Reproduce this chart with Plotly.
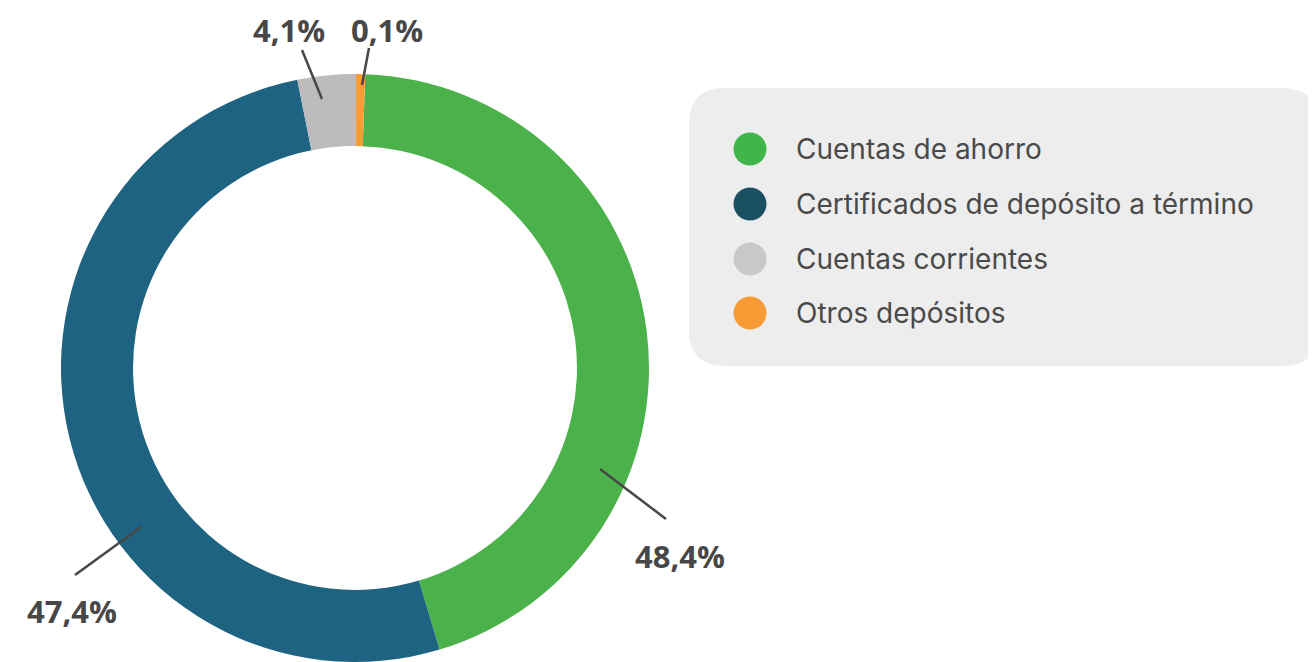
import plotly.graph_objects as go

# the page body adds an 8px margin, so the figure is a bit smaller than the window
W, H, OFF = 1308, 654, 8

# slice shares as drawn in the picture, clockwise from the green slice
categories = ['Cuentas de ahorro', 'Certificados de depósito a término',
              'Cuentas corrientes', 'Otros depósitos']
shares = [44.8, 51.5, 3.2, 0.5]
# percentages as printed on the chart
printed = ['48,4%', '47,4%', '4,1%', '0,1%']

ring_colors = ['#4bb14a', '#1e6381', '#bbbcbb', '#f79b35']
legend_colors = ['#3fb54a', '#1a4f62', '#c8c8c8', '#f79b35']


def px(x, y):
    # window pixel -> paper coords
    return (x - OFF) / W, 1 - (y - OFF) / H


# donut centre (355, 368) in window pixels, radius 294
cx, cy, r = 355 - OFF, 368 - OFF, 294
fig = go.Figure(go.Pie(
    labels=categories, values=shares, sort=False, direction='clockwise',
    rotation=2, hole=0.755, textinfo='none', hoverinfo='label+percent',
    marker=dict(colors=ring_colors, line=dict(width=0)),
    domain=dict(x=[(cx - r) / W, (cx + r) / W], y=[0, 1 - (cy - r) / H]),
    showlegend=False,
))

shapes = []
annotations = []

# percentage labels with leader lines
label_pos = [(680, 556), (72, 611), (289, 30), (387, 30)]
leaders = [((600, 469), (666, 519)), ((141, 527), (75, 575)),
           ((322, 99), (302, 50)), ((362, 85), (369, 48))]
for txt, (lx, ly), (p0, p1) in zip(printed, label_pos, leaders):
    x0, y0 = px(*p0)
    x1, y1 = px(*p1)
    shapes.append(dict(type='line', xref='paper', yref='paper', x0=x0, y0=y0, x1=x1, y1=y1,
                       line=dict(color='#474747', width=2.5)))
    ax, ay = px(lx, ly)
    annotations.append(dict(x=ax, y=ay, xref='paper', yref='paper', text=f'<b>{txt}</b>',
                            showarrow=False, xanchor='center', yanchor='middle',
                            font=dict(family='Open Sans', size=31, color='#474747')))

# legend panel with rounded corners
bx0, by0, bx1, by1, rad = 689, 88, 1318, 366, 36
def P(x, y):
    a, b = px(x, y)
    return f'{a:.5f},{b:.5f}'
path = (f'M {P(bx0 + rad, by0)} L {P(bx1 - rad, by0)} Q {P(bx1, by0)} {P(bx1, by0 + rad)} '
        f'L {P(bx1, by1 - rad)} Q {P(bx1, by1)} {P(bx1 - rad, by1)} '
        f'L {P(bx0 + rad, by1)} Q {P(bx0, by1)} {P(bx0, by1 - rad)} '
        f'L {P(bx0, by0 + rad)} Q {P(bx0, by0)} {P(bx0 + rad, by0)} Z')
shapes.append(dict(type='path', xref='paper', yref='paper', path=path,
                   fillcolor='#ededed', line=dict(width=0), layer='below'))

row_y = [149, 204, 259, 313]
for name, col, yy in zip(categories, legend_colors, row_y):
    ax, ay = px(750, yy)
    shapes.append(dict(type='circle', xref='paper', yref='paper', xsizemode='pixel',
                       ysizemode='pixel', xanchor=ax, yanchor=ay, x0=-16.5, x1=16.5,
                       y0=-16.5, y1=16.5, fillcolor=col, line=dict(width=0)))
    tx, ty = px(794, yy)
    annotations.append(dict(x=tx, y=ty, xref='paper', yref='paper', text=name,
                            showarrow=False, xanchor='left', yanchor='middle',
                            font=dict(family='Inter', size=28, color='#4a4a4a')))

fig.update_layout(
    width=W, height=H, margin=dict(l=0, r=0, t=0, b=0),
    paper_bgcolor='white', plot_bgcolor='white',
    shapes=shapes, annotations=annotations,
)

fig.write_html("out.html")
